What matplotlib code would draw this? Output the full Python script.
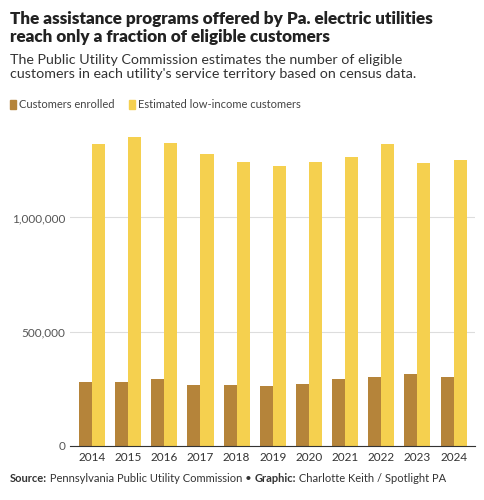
import matplotlib
matplotlib.use("Agg")
import matplotlib.pyplot as plt
import numpy as np
from matplotlib.ticker import FuncFormatter

years = ["2014","2015","2016","2017","2018","2019","2020","2021","2022","2023","2024"]
enrolled = [282000,282000,291000,269000,269000,264000,273000,295000,304000,317000,300000]
eligible = [1321000,1352000,1326000,1278000,1242000,1225000,1242000,1264000,1321000,1238000,1251000]

plt.rcParams['font.family'] = ['Lato', 'DejaVu Sans']
fig = plt.figure(figsize=(4.85, 5.0), dpi=100)
ax = fig.add_axes([0.145, 0.108, 0.835, 0.64])
x = np.arange(len(years))
w = 0.36
brown = "#b5843a"; yellow = "#f5d04f"
ax.bar(x - w/2, enrolled, w, color=brown)
ax.bar(x + w/2, eligible, w, color=yellow)
ax.set_xticks(x, years, fontsize=8.5, color="#333333")
ax.set_yticks([0, 500000, 1000000])
ax.yaxis.set_major_formatter(FuncFormatter(lambda v, p: f"{int(v):,}"))
ax.tick_params(axis='y', labelsize=8.5, colors="#555555", length=0)
ax.tick_params(axis='x', length=0, pad=4)
ax.set_ylim(0, 1400000)
ax.set_xlim(-0.6, len(years) - 0.4)
ax.grid(axis='y', color="#dddddd", lw=0.8)
ax.set_axisbelow(True)
for s in ["top", "right", "left"]:
    ax.spines[s].set_visible(False)
ax.spines["bottom"].set_color("#333333")

fig.text(0.02, 0.978, "The assistance programs offered by Pa. electric utilities\nreach only a fraction of eligible customers",
         fontsize=12.3, fontweight='heavy', va='top', color="#222222", linespacing=1.15)
fig.text(0.02, 0.893, "The Public Utility Commission estimates the number of eligible\ncustomers in each utility's service territory based on census data.",
         fontsize=10.3, va='top', color="#333333", linespacing=1.25)
fig.patches.append(matplotlib.patches.Rectangle((0.02, 0.783), 0.014, 0.018, color=brown, transform=fig.transFigure))
fig.text(0.04, 0.79, "Customers enrolled", fontsize=8, va='center', color="#444444")
fig.patches.append(matplotlib.patches.Rectangle((0.265, 0.783), 0.014, 0.018, color=yellow, transform=fig.transFigure))
fig.text(0.285, 0.79, "Estimated low-income customers", fontsize=8, va='center', color="#444444")

parts = [("Source:", 'bold'), (" Pennsylvania Public Utility Commission • ", 'normal'),
         ("Graphic:", 'bold'), (" Charlotte Keith / Spotlight PA", 'normal')]
fig.canvas.draw()
r = fig.canvas.get_renderer()
xpos = 0.02
for t, wgt in parts:
    tx = fig.text(xpos, 0.035, t, fontsize=8, fontweight=wgt, color="#333333")
    bb = tx.get_window_extent(renderer=r)
    xpos += bb.width / fig.bbox.width
fig.savefig("out.png", dpi=100)
